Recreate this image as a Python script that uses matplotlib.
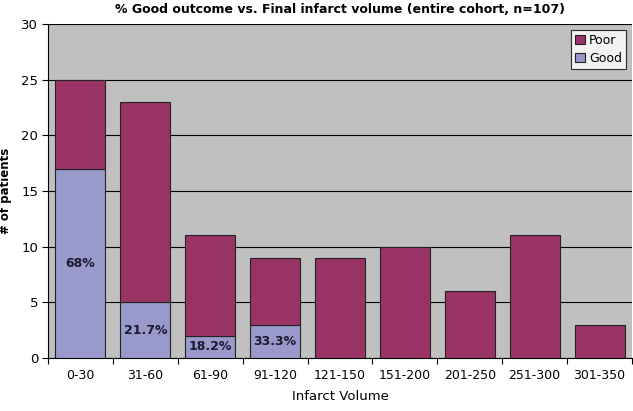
import numpy as np
import matplotlib.pyplot as plt

volumes = ["0-30", "31-60", "61-90", "91-120", "121-150", "151-200",
           "201-250", "251-300", "301-350"]
good = [17, 5, 2, 3, 0, 0, 0, 0, 0]
poor = [8, 18, 9, 6, 9, 10, 6, 11, 3]
pct_labels = ["68%", "21.7%", "18.2%", "33.3%"]

fig = plt.figure(figsize=(6.33, 4.11), dpi=100)
ax = fig.add_axes([0.0758, 0.129, 0.9226, 0.813])
ax.set_facecolor("#c0c0c0")

x = np.arange(len(volumes))
w = 0.77
ax.bar(x, good, w, color="#9999cc", edgecolor="#222222", linewidth=0.8,
       label="Good", zorder=3)
ax.bar(x, poor, w, bottom=good, color="#993366", edgecolor="#222222",
       linewidth=0.8, label="Poor", zorder=3)

for i, t in enumerate(pct_labels):
    ax.text(x[i], good[i] / 2, t, ha="center", va="center", fontsize=9,
            fontweight="bold", color="#1a1a2e", zorder=4)

ax.set_xlim(-0.5, len(volumes) - 0.5)
ax.set_ylim(0, 30)
ax.set_yticks(range(0, 31, 5))
ax.yaxis.grid(True, color="black", linewidth=0.8, zorder=1)
ax.set_axisbelow(True)
ax.set_xticks(np.arange(-0.5, len(volumes), 1), minor=False)
ax.set_xticklabels([])
ax.set_xticks(x, minor=True)
ax.set_xticklabels(volumes, minor=True, fontsize=9)
ax.tick_params(axis="x", which="minor", length=0, pad=8)
ax.tick_params(axis="x", which="major", length=4, direction="out")
ax.tick_params(axis="y", labelsize=9.5, length=4, pad=3)

for s in ["top", "right"]:
    ax.spines[s].set_visible(False)
ax.spines["left"].set_color("black")
ax.spines["bottom"].set_color("black")

ax.set_title("% Good outcome vs. Final infarct volume (entire cohort, n=107)",
             fontsize=9, fontweight="bold", pad=8)
ax.set_xlabel("Infarct Volume", fontsize=9.5, labelpad=6)
ax.set_ylabel("# of patients", fontsize=8.5, fontweight="bold")
ax.yaxis.set_label_coords(-0.062, 0.5)

handles, labels = ax.get_legend_handles_labels()
leg = ax.legend(handles[::-1], labels[::-1], loc="upper right", fontsize=9,
                frameon=True, fancybox=False, edgecolor="black",
                handlelength=0.8, handleheight=0.8, handletextpad=0.3,
                borderpad=0.3, labelspacing=0.4, borderaxespad=0.5)
leg.get_frame().set_linewidth(0.8)

fig.savefig("out.png", dpi=100)
